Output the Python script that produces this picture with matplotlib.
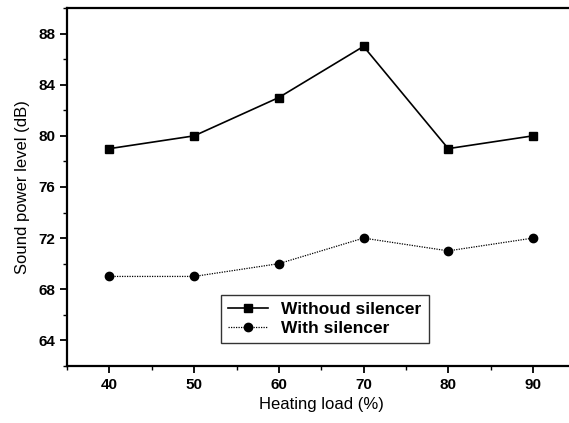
import matplotlib
matplotlib.use("Agg")
import matplotlib.pyplot as plt
from matplotlib.ticker import MultipleLocator

plt.rcParams['font.family'] = ['Liberation Sans', 'DejaVu Sans']

load = [40, 50, 60, 70, 80, 90]
without_silencer = [79, 80, 83, 87, 79, 80]
with_silencer = [69, 69, 70, 72, 71, 72]

fig = plt.figure(figsize=(5.69, 4.23), dpi=100)
# right edge of the frame is cut off in the original
ax = fig.add_axes([0.118, 0.135, 0.893, 0.846])

ax.plot(load, without_silencer, color='black', lw=1.2, marker='s', ms=6,
        label='Withoud silencer')
ax.plot(load, with_silencer, color='black', lw=0.9, ls=(0, (1, 1)), marker='o', ms=6,
        label='With silencer')

ax.set_xlim(35, 95)
ax.set_ylim(62, 90)
ax.xaxis.set_major_locator(MultipleLocator(10))
ax.xaxis.set_minor_locator(MultipleLocator(5))
ax.yaxis.set_minor_locator(MultipleLocator(2))
ax.set_yticks([64, 68, 72, 76, 80, 84, 88])

for s in ax.spines.values():
    s.set_linewidth(1.6)
ax.tick_params(which='major', direction='out', length=5, width=1.3, labelsize=11)
ax.tick_params(which='minor', direction='out', length=3, width=1.0)
for lab in ax.get_xticklabels() + ax.get_yticklabels():
    lab.set_fontweight('bold')

ax.set_xlabel('Heating load (%)', fontsize=12)
ax.set_ylabel('Sound power level (dB)', fontsize=12, labelpad=6)

leg = ax.legend(loc='lower left', bbox_to_anchor=(0.285, 0.04),
                prop={'size': 12.5, 'weight': 'bold'},
                frameon=True, fancybox=False, edgecolor='black',
                handlelength=2.3, borderpad=0.4, labelspacing=0.2,
                handletextpad=0.8)
leg.get_frame().set_linewidth(1.0)

fig.savefig('out.png', dpi=100)
